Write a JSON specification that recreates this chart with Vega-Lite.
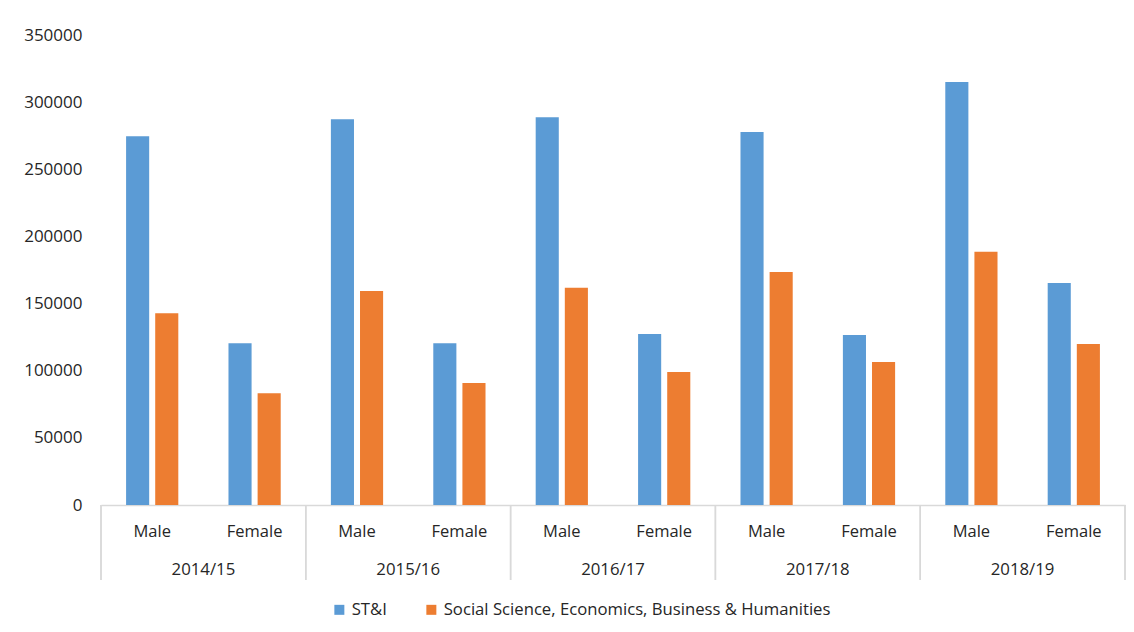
{
  "$schema": "https://vega.github.io/schema/vega-lite/v6.json",
  "padding": {"left": 23, "top": 26, "right": 5, "bottom": 5},
  "background": "white",
  "bounds": "flush",
  "config": {
    "view": {"stroke": null},
    "font": "Open Sans",
    "text": {"font": "Open Sans"}
  },
  "resolve": {"scale": {"x": "independent", "xOffset": "independent", "y": "independent"}},
  "datasets": {
    "main": [
      {"year": "2014/15", "gender": "Male", "cat": "2014/15 Male", "series": "ST&I", "value": 274600},
      {"year": "2014/15", "gender": "Male", "cat": "2014/15 Male", "series": "Social Science, Economics, Business & Humanities", "value": 142800},
      {"year": "2014/15", "gender": "Female", "cat": "2014/15 Female", "series": "ST&I", "value": 120400},
      {"year": "2014/15", "gender": "Female", "cat": "2014/15 Female", "series": "Social Science, Economics, Business & Humanities", "value": 83200},
      {"year": "2015/16", "gender": "Male", "cat": "2015/16 Male", "series": "ST&I", "value": 287200},
      {"year": "2015/16", "gender": "Male", "cat": "2015/16 Male", "series": "Social Science, Economics, Business & Humanities", "value": 159400},
      {"year": "2015/16", "gender": "Female", "cat": "2015/16 Female", "series": "ST&I", "value": 120400},
      {"year": "2015/16", "gender": "Female", "cat": "2015/16 Female", "series": "Social Science, Economics, Business & Humanities", "value": 90900},
      {"year": "2016/17", "gender": "Male", "cat": "2016/17 Male", "series": "ST&I", "value": 288700},
      {"year": "2016/17", "gender": "Male", "cat": "2016/17 Male", "series": "Social Science, Economics, Business & Humanities", "value": 161800},
      {"year": "2016/17", "gender": "Female", "cat": "2016/17 Female", "series": "ST&I", "value": 127300},
      {"year": "2016/17", "gender": "Female", "cat": "2016/17 Female", "series": "Social Science, Economics, Business & Humanities", "value": 99000},
      {"year": "2017/18", "gender": "Male", "cat": "2017/18 Male", "series": "ST&I", "value": 277800},
      {"year": "2017/18", "gender": "Male", "cat": "2017/18 Male", "series": "Social Science, Economics, Business & Humanities", "value": 173500},
      {"year": "2017/18", "gender": "Female", "cat": "2017/18 Female", "series": "ST&I", "value": 126600},
      {"year": "2017/18", "gender": "Female", "cat": "2017/18 Female", "series": "Social Science, Economics, Business & Humanities", "value": 106500},
      {"year": "2018/19", "gender": "Male", "cat": "2018/19 Male", "series": "ST&I", "value": 315000},
      {"year": "2018/19", "gender": "Male", "cat": "2018/19 Male", "series": "Social Science, Economics, Business & Humanities", "value": 188600},
      {"year": "2018/19", "gender": "Female", "cat": "2018/19 Female", "series": "ST&I", "value": 165300},
      {"year": "2018/19", "gender": "Female", "cat": "2018/19 Female", "series": "Social Science, Economics, Business & Humanities", "value": 119900}
    ]
  },
  "spacing": 0,
  "vconcat": [
    {
      "width": 1024,
      "height": 470,
      "data": {"name": "main"},
      "mark": {"type": "bar"},
      "encoding": {
        "x": {
          "field": "cat",
          "type": "nominal",
          "sort": ["2014/15 Male", "2014/15 Female", "2015/16 Male", "2015/16 Female", "2016/17 Male", "2016/17 Female", "2017/18 Male", "2017/18 Female", "2018/19 Male", "2018/19 Female"],
          "scale": {"paddingInner": 0.49, "paddingOuter": 0.245},
          "axis": {"title": null, "labels": false, "ticks": false, "tickSize": 0, "domainColor": "#d9d9d9", "domainWidth": 1.5, "minExtent": 0, "maxExtent": 0, "labelPadding": 0}
        },
        "xOffset": {
          "field": "series",
          "type": "nominal",
          "sort": ["ST&I", "Social Science, Economics, Business & Humanities"],
          "scale": {"paddingInner": 0.207, "paddingOuter": 0}
        },
        "y": {
          "field": "value",
          "type": "quantitative",
          "scale": {"domain": [0, 350000], "nice": false},
          "axis": {
            "title": null,
            "values": [0, 50000, 100000, 150000, 200000, 250000, 300000, 350000],
            "format": "d",
            "grid": false,
            "domain": false,
            "ticks": false,
            "tickSize": 0,
            "labelPadding": 19,
            "labelFontSize": 17,
            "labelColor": "#262626",
            "labelFont": "Open Sans"
          }
        },
        "color": {
          "field": "series",
          "type": "nominal",
          "sort": ["ST&I", "Social Science, Economics, Business & Humanities"],
          "scale": {"range": ["#5b9bd5", "#ed7d31"]},
          "legend": {
            "title": null,
            "orient": "none",
            "direction": "horizontal",
            "legendX": 230,
            "legendY": 566,
            "padding": 0,
            "symbolType": "square",
            "symbolSize": 100,
            "symbolStrokeWidth": 0,
            "labelFontSize": 16.7,
            "labelFont": "Open Sans",
            "labelColor": "#262626",
            "labelOffset": 4,
            "columnPadding": 36,
            "labelLimit": 600
          }
        }
      }
    },
    {
      "width": 1024,
      "height": 75,
      "data": {"name": "main"},
      "transform": [{"filter": "datum.series === 'ST&I'"}],
      "encoding": {
        "x": {
          "field": "year",
          "type": "nominal",
          "scale": {"type": "band", "paddingInner": 0, "paddingOuter": 0},
          "axis": null
        }
      },
      "layer": [
        {
          "mark": {"type": "rule", "color": "#d9d9d9", "strokeWidth": 1.5},
          "encoding": {"x": {"field": "year", "type": "nominal", "bandPosition": 0}}
        },
        {
          "transform": [{"filter": "datum.year === '2018/19'"}],
          "mark": {"type": "rule", "color": "#d9d9d9", "strokeWidth": 1.5},
          "encoding": {"x": {"field": "year", "type": "nominal", "bandPosition": 1}}
        },
        {
          "mark": {"type": "text", "fontSize": 16.5, "color": "#262626", "baseline": "middle"},
          "encoding": {
            "xOffset": {"field": "gender", "type": "nominal", "sort": ["Male", "Female"], "scale": {"type": "point", "padding": 0.5}},
            "y": {"datum": "g", "type": "nominal", "scale": {"type": "point", "domain": ["g", "y"], "padding": 0.487, "align": 0.72}, "axis": null},
            "text": {"field": "gender"}
          }
        },
        {
          "transform": [{"filter": "datum.gender === 'Male'"}],
          "mark": {"type": "text", "fontSize": 16.8, "color": "#262626", "baseline": "middle"},
          "encoding": {
            "y": {"datum": "y", "type": "nominal"},
            "text": {"field": "year"}
          }
        }
      ]
    }
  ]
}
